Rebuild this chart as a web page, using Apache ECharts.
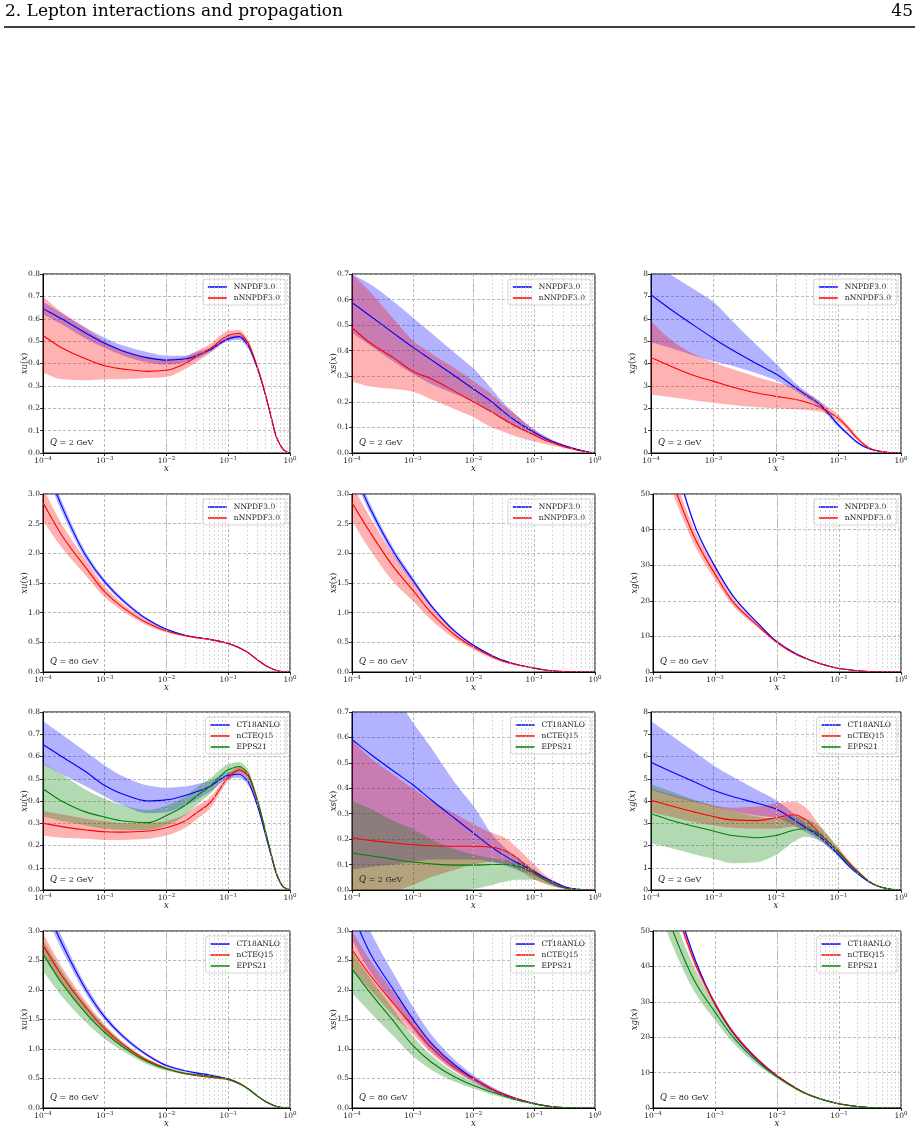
<!DOCTYPE html>
<html>
<head>
<meta charset="utf-8">
<script src="https://cdn.jsdelivr.net/npm/echarts@6/dist/echarts.min.js"></script>
<style>
  html, body { margin: 0; background: #fff; }
  #chart { width: 920px; height: 1134px; }
</style>
</head>
<body>
<div id="chart"></div>
<script>
// momentum fraction grid shared by every curve
const X = [1e-4, 2e-4, 5e-4, 1e-3, 2e-3, 5e-3, 1e-2, 2e-2, 3e-2, 5e-2, 0.1, 0.15, 0.2, 0.3, 0.4, 0.5, 0.6, 0.7, 0.8, 1];
const X_MINOR = [2e-4, 3e-4, 4e-4, 5e-4, 6e-4, 7e-4, 8e-4, 9e-4,
  2e-3, 3e-3, 4e-3, 5e-3, 6e-3, 7e-3, 8e-3, 9e-3,
  2e-2, 3e-2, 4e-2, 5e-2, 6e-2, 7e-2, 8e-2, 9e-2,
  0.2, 0.3, 0.4, 0.5, 0.6, 0.7, 0.8, 0.9];

// ---- Q = 2 GeV, NNPDF3.0 vs nNNPDF3.0 ----
const xu_q2_nn30     = [0.645, 0.60, 0.535, 0.49, 0.455, 0.425, 0.415, 0.42, 0.435, 0.46, 0.51, 0.52, 0.49, 0.375, 0.26, 0.155, 0.072, 0.035, 0.012, 0];
const xu_q2_nn30_lo  = [0.62, 0.575, 0.51, 0.47, 0.435, 0.405, 0.395, 0.405, 0.42, 0.45, 0.50, 0.505, 0.475, 0.365, 0.25, 0.148, 0.068, 0.032, 0.011, 0];
const xu_q2_nn30_hi  = [0.675, 0.625, 0.56, 0.515, 0.48, 0.45, 0.435, 0.435, 0.45, 0.47, 0.52, 0.53, 0.505, 0.385, 0.27, 0.162, 0.077, 0.038, 0.013, 0];
const xu_q2_nnn30    = [0.525, 0.47, 0.42, 0.39, 0.375, 0.365, 0.37, 0.40, 0.43, 0.465, 0.525, 0.535, 0.50, 0.38, 0.262, 0.157, 0.073, 0.035, 0.012, 0];
const xu_q2_nnn30_lo = [0.36, 0.33, 0.325, 0.33, 0.33, 0.335, 0.34, 0.375, 0.405, 0.445, 0.505, 0.515, 0.485, 0.37, 0.252, 0.15, 0.069, 0.032, 0.011, 0];
const xu_q2_nnn30_hi = [0.70, 0.63, 0.555, 0.50, 0.46, 0.43, 0.42, 0.43, 0.455, 0.485, 0.545, 0.55, 0.515, 0.39, 0.27, 0.163, 0.078, 0.037, 0.013, 0];

const xs_q2_nn30     = [0.588, 0.536, 0.466, 0.414, 0.365, 0.30, 0.25, 0.20, 0.165, 0.125, 0.08, 0.058, 0.045, 0.03, 0.021, 0.015, 0.01, 0.007, 0.004, 0];
const xs_q2_nn30_lo  = [0.47, 0.42, 0.355, 0.31, 0.27, 0.23, 0.20, 0.16, 0.13, 0.10, 0.068, 0.05, 0.039, 0.026, 0.018, 0.012, 0.008, 0.005, 0.003, 0];
const xs_q2_nn30_hi  = [0.70, 0.66, 0.59, 0.53, 0.47, 0.39, 0.33, 0.25, 0.20, 0.15, 0.092, 0.066, 0.051, 0.034, 0.024, 0.017, 0.011, 0.007, 0.004, 0];
const xs_q2_nnn30    = [0.49, 0.43, 0.37, 0.32, 0.29, 0.24, 0.20, 0.16, 0.135, 0.105, 0.07, 0.05, 0.04, 0.026, 0.018, 0.012, 0.008, 0.005, 0.002, 0];
const xs_q2_nnn30_lo = [0.28, 0.26, 0.25, 0.24, 0.21, 0.17, 0.14, 0.10, 0.085, 0.065, 0.045, 0.035, 0.028, 0.02, 0.014, 0.009, 0.006, 0.004, 0.002, 0];
const xs_q2_nnn30_hi = [0.70, 0.63, 0.52, 0.44, 0.39, 0.33, 0.28, 0.23, 0.19, 0.15, 0.09, 0.065, 0.05, 0.032, 0.022, 0.016, 0.01, 0.006, 0.003, 0];

const xg_q2_nn30     = [7.07, 6.45, 5.68, 5.12, 4.6, 3.98, 3.53, 2.95, 2.6, 2.18, 1.25, 0.78, 0.47, 0.2, 0.1, 0.06, 0.032, 0.015, 0.006, 0];
const xg_q2_nn30_lo  = [4.95, 4.7, 4.35, 4.1, 3.9, 3.55, 3.25, 2.8, 2.48, 2.05, 1.15, 0.71, 0.42, 0.17, 0.085, 0.05, 0.026, 0.012, 0.005, 0];
const xg_q2_nn30_hi  = [8.7, 8.0, 7.3, 6.75, 5.9, 4.8, 4.0, 3.15, 2.75, 2.3, 1.35, 0.85, 0.52, 0.23, 0.12, 0.07, 0.037, 0.018, 0.007, 0];
const xg_q2_nnn30    = [4.27, 3.9, 3.45, 3.2, 2.95, 2.68, 2.53, 2.4, 2.28, 2.05, 1.55, 1.05, 0.65, 0.25, 0.11, 0.06, 0.03, 0.014, 0.005, 0];
const xg_q2_nnn30_lo = [2.62, 2.5, 2.35, 2.25, 2.15, 2.05, 2.0, 1.95, 1.92, 1.85, 1.4, 0.93, 0.55, 0.21, 0.09, 0.05, 0.025, 0.011, 0.004, 0];
const xg_q2_nnn30_hi = [5.9, 5.1, 4.4, 4.05, 3.75, 3.4, 3.15, 2.95, 2.7, 2.3, 1.7, 1.17, 0.75, 0.3, 0.14, 0.075, 0.037, 0.018, 0.007, 0];

// ---- Q = 80 GeV, NNPDF3.0 vs nNNPDF3.0 ----
const xu_q80_nn30     = [3.6, 2.8, 1.95, 1.52, 1.2, 0.88, 0.72, 0.62, 0.585, 0.55, 0.48, 0.41, 0.34, 0.2, 0.11, 0.06, 0.03, 0.012, 0.004, 0];
const xu_q80_nn30_lo  = [3.48, 2.71, 1.89, 1.48, 1.165, 0.86, 0.705, 0.61, 0.575, 0.54, 0.47, 0.40, 0.333, 0.195, 0.107, 0.058, 0.029, 0.011, 0.004, 0];
const xu_q80_nn30_hi  = [3.72, 2.89, 2.01, 1.56, 1.235, 0.90, 0.735, 0.63, 0.595, 0.56, 0.49, 0.42, 0.347, 0.205, 0.113, 0.062, 0.031, 0.013, 0.004, 0];
const xu_q80_nnn30    = [2.85, 2.31, 1.75, 1.35, 1.08, 0.82, 0.69, 0.61, 0.58, 0.55, 0.48, 0.41, 0.34, 0.2, 0.11, 0.06, 0.03, 0.012, 0.004, 0];
const xu_q80_nnn30_lo = [2.55, 2.1, 1.62, 1.26, 1.02, 0.78, 0.665, 0.595, 0.57, 0.54, 0.47, 0.40, 0.333, 0.195, 0.107, 0.058, 0.029, 0.011, 0.004, 0];
const xu_q80_nnn30_hi = [3.1, 2.5, 1.88, 1.44, 1.14, 0.86, 0.715, 0.625, 0.59, 0.56, 0.49, 0.42, 0.347, 0.205, 0.113, 0.062, 0.031, 0.013, 0.004, 0];

const xs_q80_nn30     = [3.45, 2.75, 2.0, 1.55, 1.12, 0.68, 0.45, 0.28, 0.2, 0.13, 0.065, 0.035, 0.02, 0.007, 0.003, 0.001, 0, 0, 0, 0];
const xs_q80_nn30_lo  = [3.35, 2.67, 1.94, 1.5, 1.09, 0.66, 0.437, 0.272, 0.194, 0.126, 0.063, 0.034, 0.019, 0.007, 0.003, 0.001, 0, 0, 0, 0];
const xs_q80_nn30_hi  = [3.55, 2.83, 2.06, 1.6, 1.15, 0.70, 0.463, 0.288, 0.206, 0.134, 0.067, 0.036, 0.021, 0.007, 0.003, 0.001, 0, 0, 0, 0];
const xs_q80_nnn30    = [2.85, 2.35, 1.75, 1.38, 1.0, 0.62, 0.42, 0.26, 0.185, 0.125, 0.062, 0.034, 0.019, 0.007, 0.003, 0.001, 0, 0, 0, 0];
const xs_q80_nnn30_lo = [2.55, 2.05, 1.5, 1.2, 0.88, 0.55, 0.38, 0.23, 0.165, 0.11, 0.056, 0.03, 0.017, 0.006, 0.002, 0.001, 0, 0, 0, 0];
const xs_q80_nnn30_hi = [3.15, 2.6, 1.95, 1.52, 1.1, 0.68, 0.46, 0.28, 0.2, 0.135, 0.067, 0.037, 0.021, 0.008, 0.003, 0.001, 0, 0, 0, 0];

const xg_q80_nn30     = [80, 62, 40, 29.6, 21.1, 13.6, 8.5, 5.2, 3.8, 2.35, 1.0, 0.6, 0.35, 0.12, 0.05, 0.02, 0.008, 0.003, 0.001, 0];
const xg_q80_nn30_lo  = [78.8, 61.1, 39.4, 29.1, 20.8, 13.4, 8.4, 5.12, 3.74, 2.31, 0.98, 0.59, 0.34, 0.12, 0.05, 0.02, 0.008, 0.003, 0.001, 0];
const xg_q80_nn30_hi  = [81.2, 62.9, 40.6, 30.1, 21.4, 13.8, 8.6, 5.28, 3.86, 2.39, 1.02, 0.61, 0.36, 0.12, 0.05, 0.02, 0.008, 0.003, 0.001, 0];
const xg_q80_nnn30    = [70, 54, 36.7, 27.5, 19.5, 12.9, 8.3, 5.0, 3.65, 2.3, 1.0, 0.6, 0.35, 0.12, 0.05, 0.02, 0.008, 0.003, 0.001, 0];
const xg_q80_nnn30_lo = [66, 51, 34.6, 25.9, 18.4, 12.3, 8.0, 4.85, 3.55, 2.25, 0.97, 0.58, 0.34, 0.115, 0.048, 0.019, 0.008, 0.003, 0.001, 0];
const xg_q80_nnn30_hi = [74, 57, 38.8, 29.2, 20.6, 13.5, 8.6, 5.15, 3.75, 2.35, 1.03, 0.62, 0.36, 0.125, 0.052, 0.021, 0.008, 0.003, 0.001, 0];

// ---- Q = 2 GeV, CT18ANLO vs nCTEQ15 vs EPPS21 ----
const xu_q2_ct18     = [0.654, 0.60, 0.53, 0.47, 0.43, 0.40, 0.405, 0.425, 0.44, 0.465, 0.515, 0.52, 0.495, 0.375, 0.25, 0.15, 0.073, 0.032, 0.01, 0];
const xu_q2_ct18_lo  = [0.565, 0.52, 0.465, 0.42, 0.38, 0.345, 0.35, 0.38, 0.405, 0.44, 0.50, 0.505, 0.48, 0.365, 0.24, 0.143, 0.069, 0.03, 0.009, 0];
const xu_q2_ct18_hi  = [0.76, 0.70, 0.62, 0.56, 0.51, 0.47, 0.46, 0.465, 0.475, 0.49, 0.53, 0.535, 0.51, 0.385, 0.26, 0.157, 0.077, 0.034, 0.011, 0];
const xu_q2_ncteq    = [0.30, 0.285, 0.27, 0.262, 0.26, 0.265, 0.28, 0.31, 0.345, 0.39, 0.505, 0.54, 0.52, 0.395, 0.262, 0.157, 0.077, 0.034, 0.011, 0];
const xu_q2_ncteq_lo = [0.245, 0.235, 0.23, 0.225, 0.225, 0.23, 0.245, 0.28, 0.315, 0.365, 0.49, 0.525, 0.505, 0.385, 0.253, 0.15, 0.073, 0.031, 0.01, 0];
const xu_q2_ncteq_hi = [0.355, 0.34, 0.32, 0.31, 0.30, 0.30, 0.31, 0.34, 0.375, 0.415, 0.52, 0.555, 0.535, 0.405, 0.27, 0.163, 0.081, 0.036, 0.012, 0];
const xu_q2_epps     = [0.455, 0.40, 0.35, 0.328, 0.31, 0.303, 0.335, 0.38, 0.42, 0.465, 0.54, 0.555, 0.53, 0.40, 0.265, 0.158, 0.077, 0.034, 0.011, 0];
const xu_q2_epps_lo  = [0.33, 0.31, 0.29, 0.275, 0.27, 0.27, 0.29, 0.335, 0.38, 0.43, 0.515, 0.535, 0.51, 0.39, 0.255, 0.152, 0.073, 0.032, 0.01, 0];
const xu_q2_epps_hi  = [0.57, 0.52, 0.45, 0.41, 0.38, 0.36, 0.38, 0.42, 0.46, 0.50, 0.565, 0.575, 0.55, 0.41, 0.275, 0.165, 0.081, 0.036, 0.012, 0];

const xs_q2_ct18     = [0.592, 0.535, 0.465, 0.414, 0.355, 0.28, 0.224, 0.168, 0.14, 0.11, 0.072, 0.048, 0.033, 0.015, 0.007, 0.004, 0.002, 0.001, 0, 0];
const xs_q2_ct18_lo  = [0.08, 0.09, 0.10, 0.11, 0.12, 0.12, 0.12, 0.11, 0.10, 0.08, 0.055, 0.037, 0.025, 0.01, 0.005, 0.002, 0.001, 0, 0, 0];
const xs_q2_ct18_hi  = [0.98, 0.90, 0.77, 0.66, 0.56, 0.42, 0.33, 0.22, 0.175, 0.13, 0.08, 0.052, 0.037, 0.017, 0.008, 0.004, 0.002, 0.001, 0, 0];
const xs_q2_ncteq    = [0.205, 0.195, 0.185, 0.178, 0.174, 0.172, 0.172, 0.168, 0.158, 0.13, 0.068, 0.04, 0.025, 0.01, 0.004, 0.002, 0.001, 0, 0, 0];
const xs_q2_ncteq_lo = [0, 0, 0, 0.02, 0.05, 0.08, 0.10, 0.11, 0.105, 0.085, 0.04, 0.024, 0.014, 0.005, 0.002, 0.001, 0, 0, 0, 0];
const xs_q2_ncteq_hi = [0.59, 0.52, 0.45, 0.40, 0.35, 0.30, 0.26, 0.225, 0.21, 0.17, 0.10, 0.06, 0.04, 0.018, 0.008, 0.004, 0.002, 0.001, 0, 0];
const xs_q2_epps     = [0.145, 0.135, 0.12, 0.11, 0.103, 0.098, 0.098, 0.10, 0.10, 0.095, 0.065, 0.04, 0.025, 0.01, 0.004, 0.002, 0.001, 0, 0, 0];
const xs_q2_epps_lo  = [0, 0, 0, 0, 0, 0, 0.005, 0.02, 0.03, 0.04, 0.04, 0.027, 0.017, 0.007, 0.003, 0.001, 0, 0, 0, 0];
const xs_q2_epps_hi  = [0.35, 0.32, 0.27, 0.24, 0.20, 0.16, 0.14, 0.125, 0.12, 0.115, 0.08, 0.05, 0.032, 0.013, 0.005, 0.002, 0.001, 0, 0, 0];

const xg_q2_ct18     = [5.74, 5.35, 4.85, 4.48, 4.2, 3.9, 3.64, 3.13, 2.8, 2.4, 1.58, 1.05, 0.75, 0.38, 0.2, 0.11, 0.06, 0.03, 0.012, 0];
const xg_q2_ct18_lo  = [4.5, 4.25, 3.95, 3.75, 3.55, 3.35, 3.25, 2.88, 2.6, 2.25, 1.48, 0.98, 0.7, 0.35, 0.18, 0.1, 0.055, 0.027, 0.011, 0];
const xg_q2_ct18_hi  = [7.6, 7.0, 6.2, 5.6, 5.1, 4.5, 4.05, 3.4, 3.0, 2.55, 1.68, 1.12, 0.8, 0.4, 0.21, 0.12, 0.065, 0.032, 0.013, 0];
const xg_q2_ncteq    = [4.03, 3.8, 3.5, 3.3, 3.15, 3.12, 3.25, 3.38, 3.15, 2.55, 1.73, 1.2, 0.85, 0.42, 0.21, 0.11, 0.06, 0.028, 0.01, 0];
const xg_q2_ncteq_lo = [3.5, 3.3, 3.05, 2.9, 2.8, 2.75, 2.75, 2.85, 2.7, 2.3, 1.55, 1.08, 0.77, 0.38, 0.19, 0.1, 0.055, 0.025, 0.009, 0];
const xg_q2_ncteq_hi = [4.55, 4.3, 4.0, 3.8, 3.7, 3.75, 3.9, 3.95, 3.7, 2.9, 1.9, 1.3, 0.92, 0.45, 0.22, 0.12, 0.065, 0.03, 0.011, 0];
const xg_q2_epps     = [3.43, 3.15, 2.85, 2.65, 2.45, 2.35, 2.45, 2.7, 2.75, 2.5, 1.7, 1.15, 0.82, 0.4, 0.2, 0.11, 0.06, 0.028, 0.01, 0];
const xg_q2_epps_lo  = [2.1, 1.9, 1.6, 1.4, 1.2, 1.25, 1.58, 2.2, 2.4, 2.2, 1.55, 1.05, 0.75, 0.37, 0.18, 0.1, 0.055, 0.026, 0.009, 0];
const xg_q2_epps_hi  = [4.75, 4.45, 4.05, 3.8, 3.55, 3.3, 3.2, 3.3, 3.2, 2.85, 1.85, 1.25, 0.9, 0.44, 0.22, 0.12, 0.065, 0.03, 0.011, 0];

// ---- Q = 80 GeV, CT18ANLO vs nCTEQ15 vs EPPS21 ----
const xu_q80_ct18     = [3.5, 2.8, 2.0, 1.54, 1.21, 0.89, 0.72, 0.63, 0.595, 0.56, 0.49, 0.42, 0.34, 0.2, 0.11, 0.06, 0.03, 0.012, 0.004, 0];
const xu_q80_ct18_lo  = [3.36, 2.69, 1.93, 1.49, 1.175, 0.865, 0.70, 0.615, 0.58, 0.545, 0.48, 0.41, 0.333, 0.195, 0.107, 0.058, 0.029, 0.011, 0.004, 0];
const xu_q80_ct18_hi  = [3.64, 2.91, 2.07, 1.59, 1.245, 0.915, 0.74, 0.645, 0.61, 0.575, 0.50, 0.43, 0.347, 0.205, 0.113, 0.062, 0.031, 0.013, 0.004, 0];
const xu_q80_ncteq    = [2.76, 2.25, 1.7, 1.34, 1.07, 0.80, 0.67, 0.58, 0.55, 0.52, 0.48, 0.41, 0.34, 0.2, 0.11, 0.06, 0.03, 0.012, 0.004, 0];
const xu_q80_ncteq_lo = [2.58, 2.12, 1.61, 1.28, 1.03, 0.775, 0.655, 0.57, 0.54, 0.51, 0.47, 0.40, 0.333, 0.195, 0.107, 0.058, 0.029, 0.011, 0.004, 0];
const xu_q80_ncteq_hi = [2.96, 2.4, 1.8, 1.41, 1.115, 0.83, 0.69, 0.595, 0.56, 0.53, 0.49, 0.42, 0.347, 0.205, 0.113, 0.062, 0.031, 0.013, 0.004, 0];
const xu_q80_epps     = [2.61, 2.12, 1.6, 1.28, 1.03, 0.78, 0.66, 0.59, 0.565, 0.54, 0.49, 0.42, 0.34, 0.2, 0.11, 0.06, 0.03, 0.012, 0.004, 0];
const xu_q80_epps_lo  = [2.32, 1.9, 1.45, 1.17, 0.96, 0.735, 0.63, 0.57, 0.55, 0.525, 0.48, 0.41, 0.333, 0.195, 0.107, 0.058, 0.029, 0.011, 0.004, 0];
const xu_q80_epps_hi  = [2.85, 2.33, 1.75, 1.39, 1.1, 0.825, 0.69, 0.61, 0.58, 0.555, 0.50, 0.43, 0.347, 0.205, 0.113, 0.062, 0.031, 0.013, 0.004, 0];

const xs_q80_ct18     = [3.3, 2.62, 1.98, 1.51, 1.1, 0.72, 0.50, 0.32, 0.24, 0.16, 0.075, 0.04, 0.022, 0.008, 0.003, 0.001, 0, 0, 0, 0];
const xs_q80_ct18_lo  = [2.85, 2.3, 1.75, 1.33, 0.97, 0.63, 0.44, 0.28, 0.21, 0.14, 0.065, 0.034, 0.018, 0.006, 0.002, 0.001, 0, 0, 0, 0];
const xs_q80_ct18_hi  = [3.75, 3.0, 2.25, 1.72, 1.25, 0.81, 0.56, 0.36, 0.27, 0.18, 0.085, 0.046, 0.026, 0.01, 0.004, 0.0015, 0, 0, 0, 0];
const xs_q80_ncteq    = [2.68, 2.25, 1.75, 1.39, 1.03, 0.68, 0.49, 0.32, 0.235, 0.16, 0.075, 0.04, 0.022, 0.008, 0.003, 0.001, 0, 0, 0, 0];
const xs_q80_ncteq_lo = [2.35, 2.0, 1.55, 1.25, 0.93, 0.62, 0.45, 0.29, 0.215, 0.145, 0.068, 0.036, 0.02, 0.007, 0.003, 0.001, 0, 0, 0, 0];
const xs_q80_ncteq_hi = [3.0, 2.5, 1.95, 1.52, 1.13, 0.74, 0.53, 0.35, 0.255, 0.17, 0.08, 0.043, 0.024, 0.009, 0.003, 0.001, 0, 0, 0, 0];
const xs_q80_epps     = [2.36, 1.95, 1.45, 1.06, 0.78, 0.52, 0.38, 0.27, 0.21, 0.14, 0.07, 0.037, 0.02, 0.007, 0.003, 0.001, 0, 0, 0, 0];
const xs_q80_epps_lo  = [1.95, 1.62, 1.2, 0.88, 0.65, 0.44, 0.33, 0.23, 0.18, 0.12, 0.062, 0.032, 0.017, 0.006, 0.002, 0.001, 0, 0, 0, 0];
const xs_q80_epps_hi  = [2.65, 2.2, 1.65, 1.22, 0.9, 0.6, 0.44, 0.31, 0.235, 0.155, 0.077, 0.041, 0.022, 0.008, 0.003, 0.001, 0, 0, 0, 0];

const xg_q80_ct18     = [80, 62, 41, 29.4, 21.0, 13.4, 9.0, 5.6, 4.0, 2.6, 1.2, 0.7, 0.42, 0.16, 0.07, 0.03, 0.012, 0.005, 0.002, 0];
const xg_q80_ct18_lo  = [78.8, 61.1, 40.4, 29.0, 20.7, 13.2, 8.87, 5.52, 3.94, 2.56, 1.18, 0.69, 0.41, 0.16, 0.07, 0.03, 0.012, 0.005, 0.002, 0];
const xg_q80_ct18_hi  = [81.2, 62.9, 41.6, 29.8, 21.3, 13.6, 9.13, 5.68, 4.06, 2.64, 1.22, 0.71, 0.43, 0.16, 0.07, 0.03, 0.012, 0.005, 0.002, 0];
const xg_q80_ncteq    = [78, 60, 40, 29.5, 21.2, 13.6, 9.2, 5.7, 4.05, 2.6, 1.2, 0.7, 0.42, 0.16, 0.07, 0.03, 0.012, 0.005, 0.002, 0];
const xg_q80_ncteq_lo = [76, 58.5, 39, 28.8, 20.7, 13.3, 9.0, 5.58, 3.97, 2.55, 1.17, 0.68, 0.41, 0.155, 0.068, 0.029, 0.012, 0.005, 0.002, 0];
const xg_q80_ncteq_hi = [80, 61.5, 41, 30.2, 21.7, 13.9, 9.4, 5.82, 4.13, 2.65, 1.23, 0.72, 0.43, 0.165, 0.072, 0.031, 0.012, 0.005, 0.002, 0];
const xg_q80_epps     = [68, 51, 35, 27.1, 19.8, 12.8, 8.8, 5.5, 3.95, 2.5, 1.15, 0.68, 0.4, 0.15, 0.065, 0.028, 0.011, 0.005, 0.002, 0];
const xg_q80_epps_lo  = [61, 46.5, 32, 24.8, 18.2, 11.9, 8.3, 5.2, 3.75, 2.4, 1.1, 0.65, 0.38, 0.14, 0.06, 0.026, 0.01, 0.005, 0.002, 0];
const xg_q80_epps_hi  = [75, 56, 38.5, 29.3, 21.3, 13.6, 9.3, 5.8, 4.15, 2.6, 1.2, 0.71, 0.42, 0.16, 0.07, 0.03, 0.012, 0.005, 0.002, 0];

const SERIF = "'DejaVu Serif', 'Liberation Serif', serif";
const BLUE = '#0000ff', RED = '#ff0000', GREEN = '#008000';
const BAND = { '#0000ff': 'rgba(0,0,255,0.3)', '#ff0000': 'rgba(255,0,0,0.3)', '#008000': 'rgba(0,128,0,0.3)' };

// page layout of the 4 x 3 panels
const ROW_TOP = [274, 494, 712, 931];
const ROW_H = [179, 178, 178, 177];
const COL_LEFT = [43, 352, 651];
const COL_RIGHT = [290, 595, 901];

const panels = [
  { row: 0, col: 0, pdf: 'u', ymax: 0.8, step: 0.1, dec: 1, q: 2, curves: [
    ['NNPDF3.0', xu_q2_nn30, xu_q2_nn30_lo, xu_q2_nn30_hi, BLUE],
    ['nNNPDF3.0', xu_q2_nnn30, xu_q2_nnn30_lo, xu_q2_nnn30_hi, RED]] },
  { row: 0, col: 1, pdf: 's', ymax: 0.7, step: 0.1, dec: 1, q: 2, curves: [
    ['NNPDF3.0', xs_q2_nn30, xs_q2_nn30_lo, xs_q2_nn30_hi, BLUE],
    ['nNNPDF3.0', xs_q2_nnn30, xs_q2_nnn30_lo, xs_q2_nnn30_hi, RED]] },
  { row: 0, col: 2, pdf: 'g', ymax: 8, step: 1, dec: 0, q: 2, curves: [
    ['NNPDF3.0', xg_q2_nn30, xg_q2_nn30_lo, xg_q2_nn30_hi, BLUE],
    ['nNNPDF3.0', xg_q2_nnn30, xg_q2_nnn30_lo, xg_q2_nnn30_hi, RED]] },
  { row: 1, col: 0, pdf: 'u', ymax: 3, step: 0.5, dec: 1, q: 80, curves: [
    ['NNPDF3.0', xu_q80_nn30, xu_q80_nn30_lo, xu_q80_nn30_hi, BLUE],
    ['nNNPDF3.0', xu_q80_nnn30, xu_q80_nnn30_lo, xu_q80_nnn30_hi, RED]] },
  { row: 1, col: 1, pdf: 's', ymax: 3, step: 0.5, dec: 1, q: 80, curves: [
    ['NNPDF3.0', xs_q80_nn30, xs_q80_nn30_lo, xs_q80_nn30_hi, BLUE],
    ['nNNPDF3.0', xs_q80_nnn30, xs_q80_nnn30_lo, xs_q80_nnn30_hi, RED]] },
  { row: 1, col: 2, left: 653, pdf: 'g', ymax: 50, step: 10, dec: 0, q: 80, curves: [
    ['NNPDF3.0', xg_q80_nn30, xg_q80_nn30_lo, xg_q80_nn30_hi, BLUE],
    ['nNNPDF3.0', xg_q80_nnn30, xg_q80_nnn30_lo, xg_q80_nnn30_hi, RED]] },
  { row: 2, col: 0, pdf: 'u', ymax: 0.8, step: 0.1, dec: 1, q: 2, curves: [
    ['CT18ANLO', xu_q2_ct18, xu_q2_ct18_lo, xu_q2_ct18_hi, BLUE],
    ['nCTEQ15', xu_q2_ncteq, xu_q2_ncteq_lo, xu_q2_ncteq_hi, RED],
    ['EPPS21', xu_q2_epps, xu_q2_epps_lo, xu_q2_epps_hi, GREEN]] },
  { row: 2, col: 1, pdf: 's', ymax: 0.7, step: 0.1, dec: 1, q: 2, curves: [
    ['CT18ANLO', xs_q2_ct18, xs_q2_ct18_lo, xs_q2_ct18_hi, BLUE],
    ['nCTEQ15', xs_q2_ncteq, xs_q2_ncteq_lo, xs_q2_ncteq_hi, RED],
    ['EPPS21', xs_q2_epps, xs_q2_epps_lo, xs_q2_epps_hi, GREEN]] },
  { row: 2, col: 2, pdf: 'g', ymax: 8, step: 1, dec: 0, q: 2, curves: [
    ['CT18ANLO', xg_q2_ct18, xg_q2_ct18_lo, xg_q2_ct18_hi, BLUE],
    ['nCTEQ15', xg_q2_ncteq, xg_q2_ncteq_lo, xg_q2_ncteq_hi, RED],
    ['EPPS21', xg_q2_epps, xg_q2_epps_lo, xg_q2_epps_hi, GREEN]] },
  { row: 3, col: 0, pdf: 'u', ymax: 3, step: 0.5, dec: 1, q: 80, curves: [
    ['CT18ANLO', xu_q80_ct18, xu_q80_ct18_lo, xu_q80_ct18_hi, BLUE],
    ['nCTEQ15', xu_q80_ncteq, xu_q80_ncteq_lo, xu_q80_ncteq_hi, RED],
    ['EPPS21', xu_q80_epps, xu_q80_epps_lo, xu_q80_epps_hi, GREEN]] },
  { row: 3, col: 1, pdf: 's', ymax: 3, step: 0.5, dec: 1, q: 80, curves: [
    ['CT18ANLO', xs_q80_ct18, xs_q80_ct18_lo, xs_q80_ct18_hi, BLUE],
    ['nCTEQ15', xs_q80_ncteq, xs_q80_ncteq_lo, xs_q80_ncteq_hi, RED],
    ['EPPS21', xs_q80_epps, xs_q80_epps_lo, xs_q80_epps_hi, GREEN]] },
  { row: 3, col: 2, left: 653, pdf: 'g', ymax: 50, step: 10, dec: 0, q: 80, curves: [
    ['CT18ANLO', xg_q80_ct18, xg_q80_ct18_lo, xg_q80_ct18_hi, BLUE],
    ['nCTEQ15', xg_q80_ncteq, xg_q80_ncteq_lo, xg_q80_ncteq_hi, RED],
    ['EPPS21', xg_q80_epps, xg_q80_epps_lo, xg_q80_epps_hi, GREEN]] }
];

const GRID_MAJOR = { color: '#a8a8a8', type: [3, 2], width: 0.8 };
const GRID_MINOR = { color: '#bdbdbd', type: [2, 2], width: 0.6 };
const LABEL_COLOR = '#222';

// monotone cubic (Fritsch-Carlson) bezier segments through pixel points with increasing x
function monoSegs(pts) {
  const n = pts.length, h = [], d = [], m = [];
  for (let k = 0; k < n - 1; k++) {
    h[k] = pts[k + 1][0] - pts[k][0];
    d[k] = (pts[k + 1][1] - pts[k][1]) / h[k];
  }
  m[0] = d[0];
  m[n - 1] = d[n - 2];
  for (let k = 1; k < n - 1; k++) {
    if (d[k - 1] * d[k] <= 0) { m[k] = 0; continue; }
    const w1 = 2 * h[k] + h[k - 1], w2 = h[k] + 2 * h[k - 1];
    m[k] = (w1 + w2) / (w1 / d[k - 1] + w2 / d[k]);
  }
  const segs = [];
  for (let k = 0; k < n - 1; k++) {
    const t = h[k] / 3;
    segs.push([
      [pts[k][0] + t, pts[k][1] + m[k] * t],
      [pts[k + 1][0] - t, pts[k + 1][1] - m[k + 1] * t],
      pts[k], pts[k + 1]
    ]);
  }
  return segs;
}
function pathForward(segs) {
  return segs.map(s => ' C' + s[0] + ' ' + s[1] + ' ' + s[3]).join('');
}
function pathBackward(segs) {
  return segs.slice().reverse().map(s => ' C' + s[1] + ' ' + s[0] + ' ' + s[2]).join('');
}

const grid = [], xAxis = [], yAxis = [], series = [], legend = [];
const graphic = [
  { type: 'text', left: 5, top: 3, style: { text: '2. Lepton interactions and propagation', fontFamily: SERIF, fontSize: 17, fill: '#000' } },
  { type: 'text', right: 7, top: 3, style: { text: '45', fontFamily: SERIF, fontSize: 17, fill: '#000' } },
  { type: 'line', shape: { x1: 4, y1: 27, x2: 915, y2: 27 }, style: { stroke: '#000', lineWidth: 1.3 } }
];

panels.forEach((p, i) => {
  const left = p.left || COL_LEFT[p.col];
  const right = COL_RIGHT[p.col];
  const top = ROW_TOP[p.row];
  const height = ROW_H[p.row];

  grid.push({ left, top, width: right - left, height, show: true, borderColor: '#000', borderWidth: 1, backgroundColor: '#fff' });

  xAxis.push({
    type: 'log', logBase: 10, gridIndex: i, min: 1e-4, max: 1,
    name: 'x', nameLocation: 'middle', nameGap: 11, nameMoveOverlap: false,
    nameTextStyle: { fontFamily: SERIF, fontStyle: 'italic', fontSize: 8.5, color: LABEL_COLOR, verticalAlign: 'top' },
    axisLine: { show: true, onZero: false, lineStyle: { color: '#000', width: 1 } },
    axisTick: { show: true, length: 3, lineStyle: { color: '#000', width: 0.8 } },
    axisLabel: {
      margin: 3, color: LABEL_COLOR,
      formatter: v => {
        const e = Math.round(Math.log10(v));
        return '{b|10}{s|' + (e < 0 ? '\u2212' + (-e) : e) + '}';
      },
      rich: {
        b: { fontFamily: SERIF, fontSize: 7.5, color: LABEL_COLOR },
        s: { fontFamily: SERIF, fontSize: 5.5, color: LABEL_COLOR, verticalAlign: 'top', padding: [0, 0, 4, 0] }
      }
    },
    splitLine: { show: true, lineStyle: GRID_MAJOR }
  });

  yAxis.push({
    type: 'value', gridIndex: i, min: 0, max: p.ymax, interval: p.step,
    name: '{i|x' + p.pdf + '}({i|x})', nameLocation: 'middle', nameGap: 14, nameMoveOverlap: false,
    nameTextStyle: {
      fontFamily: SERIF, fontSize: 8.5, color: LABEL_COLOR,
      rich: { i: { fontFamily: SERIF, fontStyle: 'italic', fontSize: 8.5, color: LABEL_COLOR } }
    },
    axisLine: { show: true, lineStyle: { color: '#000', width: 1 } },
    axisTick: { show: true, length: 3, lineStyle: { color: '#000', width: 0.8 } },
    axisLabel: { margin: 3, fontFamily: SERIF, fontSize: 7.5, color: LABEL_COLOR, formatter: v => v.toFixed(p.dec) },
    splitLine: { show: true, lineStyle: GRID_MAJOR }
  });

  // minor decade grid lines (2..9 x 10^k)
  series.push({
    type: 'line', name: 'grid' + i, xAxisIndex: i, yAxisIndex: i, data: [], silent: true,
    markLine: {
      silent: true, symbol: ['none', 'none'], animation: false, label: { show: false },
      lineStyle: GRID_MINOR,
      data: X_MINOR.map(v => ({ xAxis: v }))
    }
  });

  // uncertainty bands, drawn as one closed path per PDF set
  p.curves.forEach(([name, c, lo, hi, color]) => {
    series.push({
      type: 'custom', name: name + ' band', xAxisIndex: i, yAxisIndex: i, silent: true, z: 2, clip: true,
      data: X.map((x, k) => [x, lo[k], hi[k]]),
      encode: { x: 0, y: [1, 2] },
      renderItem: (params, api) => {
        if (params.dataIndex !== 0) return null;
        const up = X.map((x, k) => api.coord([x, hi[k]]));
        const dn = X.map((x, k) => api.coord([x, lo[k]]));
        const n = X.length;
        const d = 'M' + up[0] + pathForward(monoSegs(up)) +
          ' L' + dn[n - 1] + pathBackward(monoSegs(dn)) + ' Z';
        const cs = params.coordSys;
        return {
          type: 'path', shape: { pathData: d }, style: { fill: BAND[color], stroke: null },
          clipPath: { type: 'rect', shape: { x: cs.x, y: cs.y, width: cs.width, height: cs.height } }
        };
      }
    });
  });

  // central curves on top of all bands
  p.curves.forEach(([name, c, lo, hi, color]) => {
    series.push({
      type: 'custom', name, xAxisIndex: i, yAxisIndex: i, silent: true, z: 4, clip: true,
      itemStyle: { color },
      data: X.map((x, k) => [x, c[k]]),
      encode: { x: 0, y: 1 },
      renderItem: (params, api) => {
        if (params.dataIndex !== 0) return null;
        const pts = X.map((x, k) => api.coord([x, c[k]]));
        const d = 'M' + pts[0] + pathForward(monoSegs(pts));
        const cs = params.coordSys;
        return {
          type: 'path', shape: { pathData: d }, style: { fill: null, stroke: color, lineWidth: 1.1 },
          clipPath: { type: 'rect', shape: { x: cs.x, y: cs.y, width: cs.width, height: cs.height } }
        };
      }
    });
  });

  legend.push({
    data: p.curves.map(c => c[0]),
    orient: 'vertical', right: 920 - right + 4, top: top + 5,
    backgroundColor: 'rgba(255,255,255,0.85)', borderColor: '#cccccc', borderWidth: 0.8, borderRadius: 3,
    padding: [4, 6, 3, 5], itemGap: 3, itemWidth: 19, itemHeight: 1.5, icon: 'rect',
    textStyle: { fontFamily: SERIF, fontSize: 7.5, color: LABEL_COLOR, padding: [0, 0, 0, 2] }
  });

  graphic.push({
    type: 'text', left: left + 7, top: top + height - 15, z: 10,
    style: {
      text: '{i|Q} = ' + p.q + ' GeV', fontFamily: SERIF, fontSize: 8, fill: LABEL_COLOR,
      rich: { i: { fontFamily: SERIF, fontStyle: 'italic', fontSize: 8.5, fill: LABEL_COLOR } }
    }
  });
});

const chart = echarts.init(document.getElementById('chart'), null, { renderer: 'canvas' });
chart.setOption({
  animation: false,
  backgroundColor: '#fff',
  grid, xAxis, yAxis, series, legend, graphic
});
</script>
</body>
</html>
